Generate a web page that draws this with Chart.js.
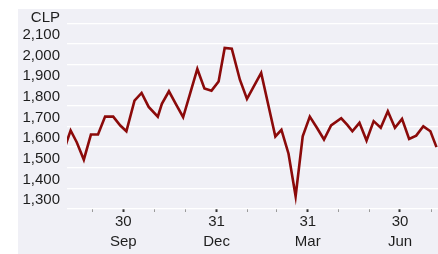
<!DOCTYPE html>
<html>
<head>
<meta charset="utf-8">
<script src="https://cdn.jsdelivr.net/npm/chart.js@4.4.1/dist/chart.umd.min.js"></script>
<style>
  html, body { margin: 0; padding: 0; background: #fff; }
  #wrap { position: absolute; left: 18px; top: 9px; width: 420px; height: 245px; background: #f0f0f6; }
</style>
</head>
<body>
<div id="wrap"><canvas id="c" width="420" height="245"></canvas></div>
<script>
// x = days after 31 Jul, roughly weekly observations
const days = [2, 9, 15, 22, 29, 36, 43, 51, 58, 64,
  72, 79, 86, 95, 99, 106, 113, 120, 127, 134,
  141, 148, 155, 161, 168, 176, 183, 190, 197, 204,
  211, 217, 224, 231, 238, 245, 252, 259, 266, 276,
  282, 287, 294, 301, 308, 315, 322, 329, 336, 343,
  350, 357, 364, 370];
const clp = [1580, 1681, 1624, 1539, 1661, 1661, 1748, 1748, 1705, 1677,
  1826, 1863, 1795, 1748, 1810, 1871, 1808, 1745, 1862, 1979,
  1885, 1874, 1918, 2081, 2077, 1927, 1834, 1897, 1960, 1806,
  1652, 1684, 1568, 1362, 1652, 1748, 1694, 1637, 1705, 1740,
  1708, 1677, 1718, 1632, 1726, 1694, 1774, 1694, 1737, 1640,
  1656, 1701, 1677, 1600];

// month ends (days after 31 Jul) and their labels, quarter ends only
const monthEnds = [31, 61, 92, 122, 153, 184, 212, 243, 273, 304, 334, 365];
const monthLabels = ['', ['30', 'Sep'], '', '', ['31', 'Dec'], '', '', ['31', 'Mar'], '', '', ['30', 'Jun'], ''];

const yTicks = [1300, 1400, 1500, 1600, 1700, 1800, 1900, 2000, 2100, 2200];
const unitRow = 2200; // top gridline carries the unit instead of a number

const textColor = '#1e1e1e';
Chart.defaults.font.family = '"Liberation Sans", Arial, sans-serif';
Chart.defaults.font.size = 15;
Chart.defaults.color = textColor;

const points = days.map((d, i) => ({ x: d, y: clp[i] }));

new Chart(document.getElementById('c'), {
  type: 'line',
  data: {
    datasets: [{
      data: points,
      borderColor: '#8b0a0a',
      borderWidth: 2.6,
      pointRadius: 0,
      tension: 0,
      clip: 0,
    }],
  },
  options: {
    responsive: false,
    animation: false,
    devicePixelRatio: 1,
    layout: { padding: 0 },
    plugins: { legend: { display: false }, tooltip: { enabled: false } },
    scales: {
      x: {
        type: 'linear',
        min: 5.4,
        max: 371.5,
        afterBuildTicks: (s) => { s.ticks = monthEnds.map(v => ({ value: v })); },
        afterFit: (s) => { s.height = 45; s.paddingLeft = 0; s.paddingRight = 0; },
        border: { display: false },
        grid: {
          drawOnChartArea: false,
          drawTicks: true,
          tickLength: 3,
          tickColor: (ctx) => monthLabels[ctx.index] ? '#333' : '#9a9a9a',
          tickWidth: (ctx) => monthLabels[ctx.index] ? 2 : 1,
        },
        ticks: {
          autoSkip: false,
          maxRotation: 0,
          padding: 0,
          color: textColor,
          font: { size: 15, lineHeight: '20px' },
          callback: (v, i) => monthLabels[i],
        },
      },
      y: {
        min: 1300,
        max: 2270,
        afterBuildTicks: (s) => { s.ticks = yTicks.map(v => ({ value: v })); },
        afterFit: (s) => { s.width = 49; s.paddingTop = 0; s.paddingBottom = 0; },
        border: { display: false },
        grid: { color: '#ffffff', lineWidth: 1.3, drawTicks: false },
        ticks: {
          padding: 7,
          labelOffset: -9,
          color: textColor,
          font: (ctx) => (ctx.tick && ctx.tick.value === unitRow)
            ? { size: 15, lineHeight: '7px' }
            : { size: 15 },
          callback: (v) => v === unitRow ? ['', 'CLP'] : v.toLocaleString('en-US'),
        },
      },
    },
  },
});
</script>
</body>
</html>
